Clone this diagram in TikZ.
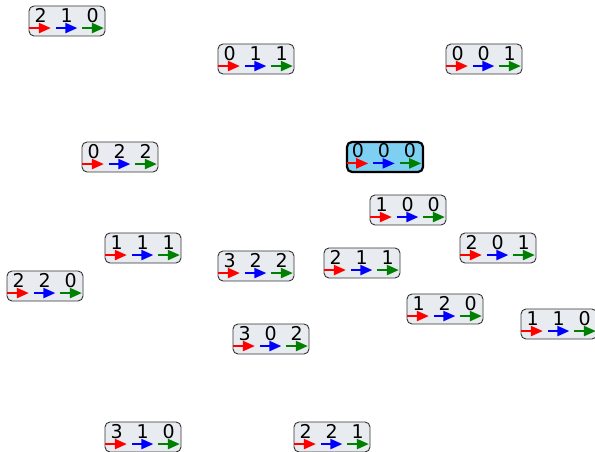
\documentclass[tikz,border=0pt]{standalone}
\usepackage{fontspec}
\setmainfont{DejaVu Sans}
\usetikzlibrary{arrows.meta}
\definecolor{boxfill}{RGB}{232,235,240}
\definecolor{startfill}{RGB}{125,208,242}
\definecolor{darkgreen}{RGB}{0,128,0}

\begin{document}
\begin{tikzpicture}[x=1pt, y=-1pt, font=\fontsize{19}{19}\selectfont,
  state/.style={draw=black!80, line width=0.9pt, rounded corners=5pt, fill=boxfill, minimum width=76pt, minimum height=30pt, inner sep=0pt},
  start/.style={state, draw=black, line width=2.2pt, fill=startfill},
  digit/.style={inner sep=0pt, anchor=center},
  move/.style={line width=2.1pt, -{Triangle[length=12pt,width=10pt]}}]
\useasboundingbox (0,0) rectangle (595,452);
% one box per state, digits on top and coloured moves below
\foreach \x/\y/\a/\b/\c/\st in {67/21/2/1/0/state, 256/59/0/1/1/state, 484/59/0/0/1/state,
    120/157/0/2/2/state, 385/157/0/0/0/start, 408/210/1/0/0/state,
    143/248/1/1/1/state, 498/248/2/0/1/state, 45/286/2/2/0/state,
    256/266/3/2/2/state, 362/263/2/1/1/state, 445/309/1/2/0/state,
    559/324/1/1/0/state, 271/339/3/0/2/state, 143/437/3/1/0/state,
    332/437/2/2/1/state} {
  \node[\st] (s\a\b\c) at (\x,\y) {};
  \foreach \d/\col [count=\i from 0] in {\a/red,\b/blue,\c/darkgreen} {
    \node[digit] (s\a\b\c-\i) at ([shift={(12+26*\i,10)}]s\a\b\c.north west) {\d};
    \draw[move,\col] ([shift={(0.8+26.5*\i,22.5)}]s\a\b\c.north west) -- ++(21.5,0);
  }
}
\end{tikzpicture}
\end{document}
